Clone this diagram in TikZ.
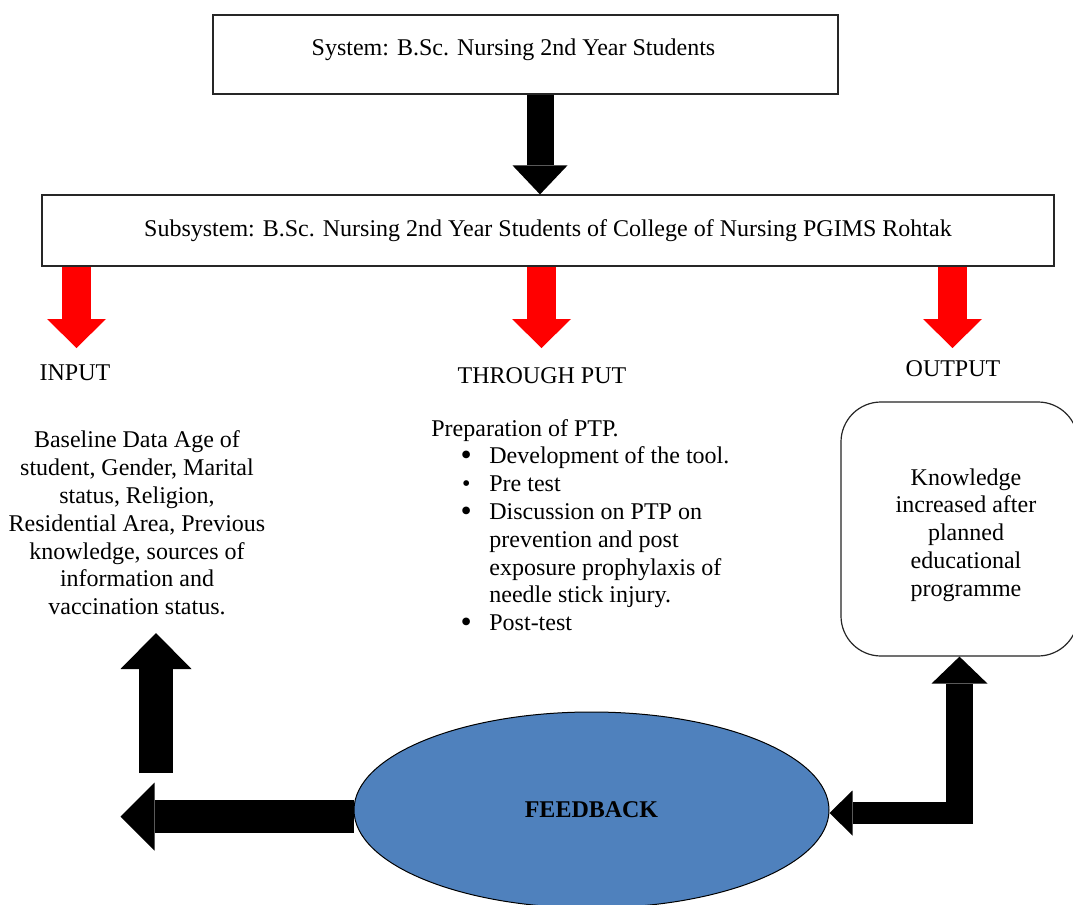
\documentclass[tikz,border=0pt]{standalone}
\usepackage{fontspec}
\setmainfont{Liberation Serif}
\usetikzlibrary{positioning}
\usetikzlibrary{shapes.geometric, arrows.meta, calc}
\definecolor{fbblue}{RGB}{79,129,189}
\tikzstyle{sysbox} = [draw=black!85, line width=0.6pt, inner sep=0pt]
\tikzstyle{txt} = [inner sep=0pt, font=\fontsize{12}{13.9}\selectfont]
\tikzstyle{redarrow} = [red, line width=14.5pt, -{Triangle[length=14.5pt, width=29.5pt, line width=0pt]}]
\tikzstyle{blackarrow} = [black, line width=13.5pt, -{Triangle[length=14.5pt, width=27.5pt, line width=0pt]}]
\newcommand\ptpbul{\hspace*{14.6pt}\makebox[14.4pt][l]{\raisebox{-1pt}{\fontsize{16}{16}\selectfont\textbullet}}}
\newcommand\ptpsmallbul{\hspace*{15.4pt}\makebox[13.6pt][l]{\textbullet}}
\newcommand\ptpind{\hspace*{29pt}}

\begin{document}
\begin{tikzpicture}[x=0.5pt, y=-0.5pt]
\fill[white] (0,0) rectangle (1073,905);
\useasboundingbox (0,0) rectangle (1073,905);
% system boxes
\node[sysbox, minimum width=312.5pt, minimum height=39.5pt] (sys) at (525.5,54.5) {};
\node[txt] (systxt) at (513.5,50) {System: B.Sc. Nursing 2nd Year Students};
\node[sysbox, txt, minimum width=506pt, minimum height=35.5pt] (subsys) at (548,230.5) {Subsystem: B.Sc. Nursing 2nd Year Students of College of Nursing PGIMS Rohtak};
\draw[blackarrow] ([xshift=7.25pt]sys.south) -- ([xshift=7.25pt]sys.south |- subsys.north);

% input, through put, output
\coordinate (intip) at (76.5,348);
\coordinate (thrtip) at (541.5,348);
\coordinate (outtip) at (952.5,348);
\draw[redarrow] (subsys.south -| intip) -- (intip);
\draw[redarrow] (subsys.south -| thrtip) -- (thrtip);
\draw[redarrow] (subsys.south -| outtip) -- (outtip);
\node[txt] (inlbl) at (75,373) {INPUT};
\node[txt] (thrlbl) at (542,376) {THROUGH PUT};
\node[txt] (outlbl) at (953,369) {OUTPUT};

\node[txt, align=center] (intxt) at (137,523) {Baseline Data Age of\\ student, Gender, Marital\\ status, Religion,\\ Residential Area, Previous\\ knowledge, sources of\\ information and\\ vaccination status.};
\node[txt, align=left, anchor=west] (thrtxt) at (431,526) {Preparation of PTP.\\
\ptpbul Development of the tool.\\
\ptpsmallbul Pre test\\
\ptpbul Discussion on PTP on\\
\ptpind prevention and post\\
\ptpind exposure prophylaxis of\\
\ptpind needle stick injury.\\
\ptpbul Post-test};
\node[sysbox, rounded corners=20pt, minimum width=118.5pt, minimum height=127pt] (outbox) at (959.5,529) {};
\node[txt, align=center] (outtxt) at (966,535) {Knowledge\\ increased after\\ planned\\ educational\\ programme};

% feedback
\node[ellipse, draw=black, line width=0.5pt, fill=fbblue, minimum width=237.5pt, minimum height=98pt, inner sep=0pt, font=\fontsize{12}{13.9}\selectfont\bfseries] (fb) at (591.5,810) {FEEDBACK};
\coordinate (upbase) at (156,773);
\coordinate (uptip) at (156,633);
\draw[black, line width=17pt, -{Triangle[length=18pt, width=35.5pt, line width=0pt]}] (upbase) -- (uptip);
\draw[black, line width=16.5pt, -{Triangle[length=17pt, width=34pt, line width=0pt]}] ([yshift=-3.25pt]fb.west) -- ++(-233,0);
\draw[black, line width=13.5pt, -{Triangle[length=13.5pt, width=28pt, line width=0pt]}] (outbox.south |- 0,824) -- (outbox.south);
\draw[black, line width=11pt, -{Triangle[length=11.5pt, width=22.5pt, line width=0pt]}] ($(outbox.south |- 0,813)+(13.5,0)$) -- ([yshift=-1.5pt]fb.east);
\end{tikzpicture}
\end{document}
